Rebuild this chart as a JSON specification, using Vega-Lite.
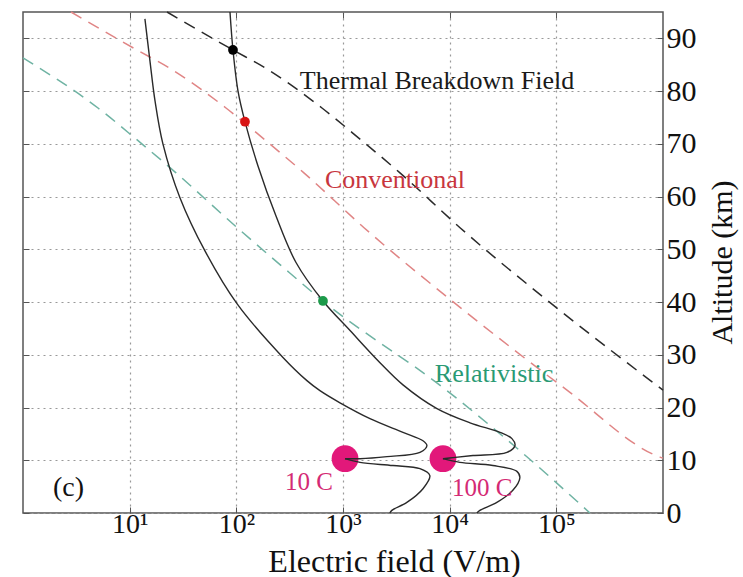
{
  "$schema": "https://vega.github.io/schema/vega-lite/v6.json",
  "width": 640,
  "height": 501,
  "autosize": "none",
  "padding": {"left": 23, "top": 12, "right": 80, "bottom": 64},
  "background": "white",
  "config": {
    "view": {"stroke": "#555", "strokeWidth": 1.5},
    "font": "Liberation Serif",
    "axis": {"labelFont": "Liberation Serif", "titleFont": "Liberation Serif", "titleFontWeight": "normal", "labelColor": "#111", "titleColor": "#111", "tickColor": "#555", "domain": false}
  },
  "datasets": {
    "thermal": [
      {"E": 22.4, "alt": 95}, {"E": 93, "alt": 87.8}, {"E": 193.8, "alt": 84.2}, {"E": 635, "alt": 76.8},
      {"E": 1443, "alt": 70.9}, {"E": 3420, "alt": 64.5}, {"E": 12500, "alt": 54.1}, {"E": 108200, "alt": 38.4}, {"E": 1000000, "alt": 23.3}
    ],
    "conv": [
      {"E": 2.82, "alt": 95}, {"E": 11.7, "alt": 87.8}, {"E": 24.4, "alt": 84.2}, {"E": 80.0, "alt": 76.8},
      {"E": 181.7, "alt": 70.9}, {"E": 430, "alt": 64.5}, {"E": 1574, "alt": 54.1}, {"E": 13620, "alt": 38.4},
      {"E": 125900, "alt": 23.3}, {"E": 937000, "alt": 10.6}, {"E": 1000000, "alt": 10.4}
    ],
    "rel": [
      {"E": 1.0, "alt": 86.3}, {"E": 5.05, "alt": 76.8}, {"E": 11.5, "alt": 70.9}, {"E": 27.2, "alt": 64.5},
      {"E": 99.3, "alt": 54.3}, {"E": 256.6, "alt": 47.1}, {"E": 649, "alt": 40.2}, {"E": 9440, "alt": 23.2},
      {"E": 45600, "alt": 11.8}, {"E": 206500, "alt": 0}
    ],
    "curves": [
      {"s": "c10u", "i": 1, "E": 13.9, "alt": 93.7}, {"s": "c10u", "i": 2, "E": 15.5, "alt": 85.7},
      {"s": "c10u", "i": 3, "E": 17.3, "alt": 78.1}, {"s": "c10u", "i": 4, "E": 20.5, "alt": 70.0},
      {"s": "c10u", "i": 5, "E": 29.6, "alt": 59.8}, {"s": "c10u", "i": 6, "E": 50.8, "alt": 49.7},
      {"s": "c10u", "i": 7, "E": 101.4, "alt": 39.7}, {"s": "c10u", "i": 8, "E": 273.6, "alt": 29.5},
      {"s": "c10u", "i": 9, "E": 459, "alt": 25.1}, {"s": "c10u", "i": 10, "E": 608, "alt": 23.2},
      {"s": "c10u", "i": 11, "E": 937, "alt": 20.9}, {"s": "c10u", "i": 12, "E": 1791, "alt": 17.9},
      {"s": "c10u", "i": 13, "E": 3650, "alt": 15.3}, {"s": "c10u", "i": 14, "E": 5620, "alt": 13.7},
      {"s": "c10u", "i": 15, "E": 6120, "alt": 12.8}, {"s": "c10u", "i": 16, "E": 5270, "alt": 11.5},
      {"s": "c10u", "i": 17, "E": 2585, "alt": 10.7}, {"s": "c10u", "i": 18, "E": 1443, "alt": 10.3},
      {"s": "c10u", "i": 19, "E": 1045, "alt": 10.3},
      {"s": "c10l", "i": 1, "E": 1045, "alt": 10.3}, {"s": "c10l", "i": 2, "E": 1443, "alt": 9.6},
      {"s": "c10l", "i": 3, "E": 2940, "alt": 9.0}, {"s": "c10l", "i": 4, "E": 5270, "alt": 8.4},
      {"s": "c10l", "i": 5, "E": 6520, "alt": 7.1}, {"s": "c10l", "i": 6, "E": 5620, "alt": 4.6},
      {"s": "c10l", "i": 7, "E": 3970, "alt": 2.0}, {"s": "c10l", "i": 8, "E": 2870, "alt": 0.5},
      {"s": "c10l", "i": 9, "E": 2750, "alt": 0},
      {"s": "c100u", "i": 1, "E": 87.2, "alt": 95}, {"s": "c100u", "i": 2, "E": 93, "alt": 87.8},
      {"s": "c100u", "i": 3, "E": 103.7, "alt": 80.0}, {"s": "c100u", "i": 4, "E": 120.5, "alt": 74.2},
      {"s": "c100u", "i": 5, "E": 159.6, "alt": 65.8}, {"s": "c100u", "i": 6, "E": 235.5, "alt": 56.3},
      {"s": "c100u", "i": 7, "E": 362.6, "alt": 47.5}, {"s": "c100u", "i": 8, "E": 649, "alt": 40.2},
      {"s": "c100u", "i": 9, "E": 1164, "alt": 34.6}, {"s": "c100u", "i": 10, "E": 2222, "alt": 28.5},
      {"s": "c100u", "i": 11, "E": 3650, "alt": 24.3}, {"s": "c100u", "i": 12, "E": 7600, "alt": 19.8},
      {"s": "c100u", "i": 13, "E": 15510, "alt": 17.1}, {"s": "c100u", "i": 14, "E": 29620, "alt": 15.3},
      {"s": "c100u", "i": 15, "E": 38370, "alt": 14.1}, {"s": "c100u", "i": 16, "E": 40950, "alt": 12.8},
      {"s": "c100u", "i": 17, "E": 34460, "alt": 11.5}, {"s": "c100u", "i": 18, "E": 16540, "alt": 10.9},
      {"s": "c100u", "i": 19, "E": 10740, "alt": 10.5}, {"s": "c100u", "i": 20, "E": 8650, "alt": 10.3},
      {"s": "c100l", "i": 1, "E": 8650, "alt": 10.3}, {"s": "c100l", "i": 2, "E": 12470, "alt": 9.6},
      {"s": "c100l", "i": 3, "E": 25400, "alt": 9.0}, {"s": "c100l", "i": 4, "E": 42700, "alt": 7.9},
      {"s": "c100l", "i": 5, "E": 45500, "alt": 6.7}, {"s": "c100l", "i": 6, "E": 39100, "alt": 4.3},
      {"s": "c100l", "i": 7, "E": 27700, "alt": 2.0}, {"s": "c100l", "i": 8, "E": 19200, "alt": 0.5},
      {"s": "c100l", "i": 9, "E": 18000, "alt": 0}
    ],
    "charges": [{"E": 1045, "alt": 10.3}, {"E": 8650, "alt": 10.3}],
    "dotThermal": [{"E": 93, "alt": 87.8}],
    "dotConv": [{"E": 120.5, "alt": 74.2}],
    "dotRel": [{"E": 649, "alt": 40.2}],
    "labThermal": [{"t": "Thermal Breakdown Field", "E": 394, "alt": 80.4}],
    "labConv": [{"t": "Conventional", "E": 677, "alt": 61.7}],
    "labRel": [{"t": "Relativistic", "E": 7260, "alt": 24.9}],
    "labQ": [{"t": "10 C", "E": 286, "alt": 4.3}, {"t": "100 C", "E": 10490, "alt": 3.3}],
    "panel": [{"t": "(c)", "E": 1.91, "alt": 3.3}]
  },
  "layer": [
    {
      "encoding": {
        "x": {
          "field": "E", "type": "quantitative",
          "scale": {"type": "log", "domain": [1, 1000000], "nice": false},
          "axis": {
            "orient": "bottom", "values": [10, 100, 1000, 10000, 100000],
            "labelExpr": "'10' + ['⁰','¹','²','³','⁴','⁵','⁶'][round(log(datum.value)/LN10)]",
            "labelFontSize": 28, "labelPadding": 3, "tickSize": -6,
            "grid": true, "gridDash": [2, 4], "gridColor": "#999", "gridWidth": 1.2,
            "title": "Electric field (V/m)", "titleFontSize": 32, "titleX": 371, "titleY": 58,
            "titleAlign": "center", "titleBaseline": "alphabetic"
          }
        },
        "y": {
          "field": "alt", "type": "quantitative",
          "scale": {"domain": [0, 95], "nice": false, "zero": false},
          "axis": {
            "orient": "right", "values": [0, 10, 20, 30, 40, 50, 60, 70, 80, 90],
            "labelFontSize": 30, "labelPadding": 9, "tickSize": -6,
            "grid": true, "gridDash": [2, 4], "gridColor": "#999", "gridWidth": 1.2,
            "title": "Altitude (km)", "titleFontSize": 30, "titleAngle": 270,
            "titleX": 68, "titleY": 250, "titleAlign": "center", "titleBaseline": "alphabetic"
          }
        }
      },
      "layer": [
        {"data": {"name": "thermal"}, "mark": {"type": "line", "stroke": "#2a2a2a", "strokeWidth": 1.5, "strokeDash": [12, 8], "interpolate": "monotone"}},
        {"data": {"name": "conv"}, "mark": {"type": "line", "stroke": "#e08585", "strokeWidth": 1.5, "strokeDash": [12, 8], "interpolate": "monotone"}},
        {"data": {"name": "rel"}, "mark": {"type": "line", "stroke": "#6fb3a3", "strokeWidth": 1.5, "strokeDash": [12, 8], "interpolate": "monotone"}},
        {"data": {"name": "charges"}, "mark": {"type": "point", "filled": true, "size": 720, "color": "#e2187a", "opacity": 1}},
        {
          "data": {"name": "curves"},
          "mark": {"type": "line", "stroke": "#2a2a2a", "strokeWidth": 1.4, "interpolate": "catmull-rom"},
          "encoding": {"detail": {"field": "s", "type": "nominal"}, "order": {"field": "i", "type": "quantitative"}}
        },
        {"data": {"name": "dotThermal"}, "mark": {"type": "point", "filled": true, "size": 95, "opacity": 1, "color": "#000000"}},
        {"data": {"name": "dotConv"}, "mark": {"type": "point", "filled": true, "size": 95, "opacity": 1, "color": "#d81414"}},
        {"data": {"name": "dotRel"}, "mark": {"type": "point", "filled": true, "size": 95, "opacity": 1, "color": "#1c9a4a"}},
        {"data": {"name": "labThermal"}, "mark": {"type": "text", "align": "left", "baseline": "alphabetic", "fontSize": 26, "font": "Liberation Serif", "color": "#1a1a1a"}, "encoding": {"text": {"field": "t", "type": "nominal"}}},
        {"data": {"name": "labConv"}, "mark": {"type": "text", "align": "left", "baseline": "alphabetic", "fontSize": 26, "font": "Liberation Serif", "color": "#c8363e"}, "encoding": {"text": {"field": "t", "type": "nominal"}}},
        {"data": {"name": "labRel"}, "mark": {"type": "text", "align": "left", "baseline": "alphabetic", "fontSize": 26, "font": "Liberation Serif", "color": "#2a9a74"}, "encoding": {"text": {"field": "t", "type": "nominal"}}},
        {"data": {"name": "labQ"}, "mark": {"type": "text", "align": "left", "baseline": "alphabetic", "fontSize": 25, "font": "Liberation Serif", "color": "#d42a74"}, "encoding": {"text": {"field": "t", "type": "nominal"}}},
        {"data": {"name": "panel"}, "mark": {"type": "text", "align": "left", "baseline": "alphabetic", "fontSize": 28, "font": "Liberation Serif", "color": "#111"}, "encoding": {"text": {"field": "t", "type": "nominal"}}}
      ]
    },
    {
      "data": {"name": "dotThermal"},
      "mark": {"type": "point", "opacity": 0},
      "encoding": {
        "x": {"field": "E", "type": "quantitative", "axis": {"orient": "top", "values": [10, 100, 1000, 10000, 100000], "labels": false, "title": null, "grid": false, "tickSize": -6}},
        "y": {"field": "alt", "type": "quantitative", "axis": {"orient": "left", "values": [0, 10, 20, 30, 40, 50, 60, 70, 80, 90], "labels": false, "title": null, "grid": false, "tickSize": -6}}
      }
    }
  ],
  "resolve": {"axis": {"x": "independent", "y": "independent"}}
}
